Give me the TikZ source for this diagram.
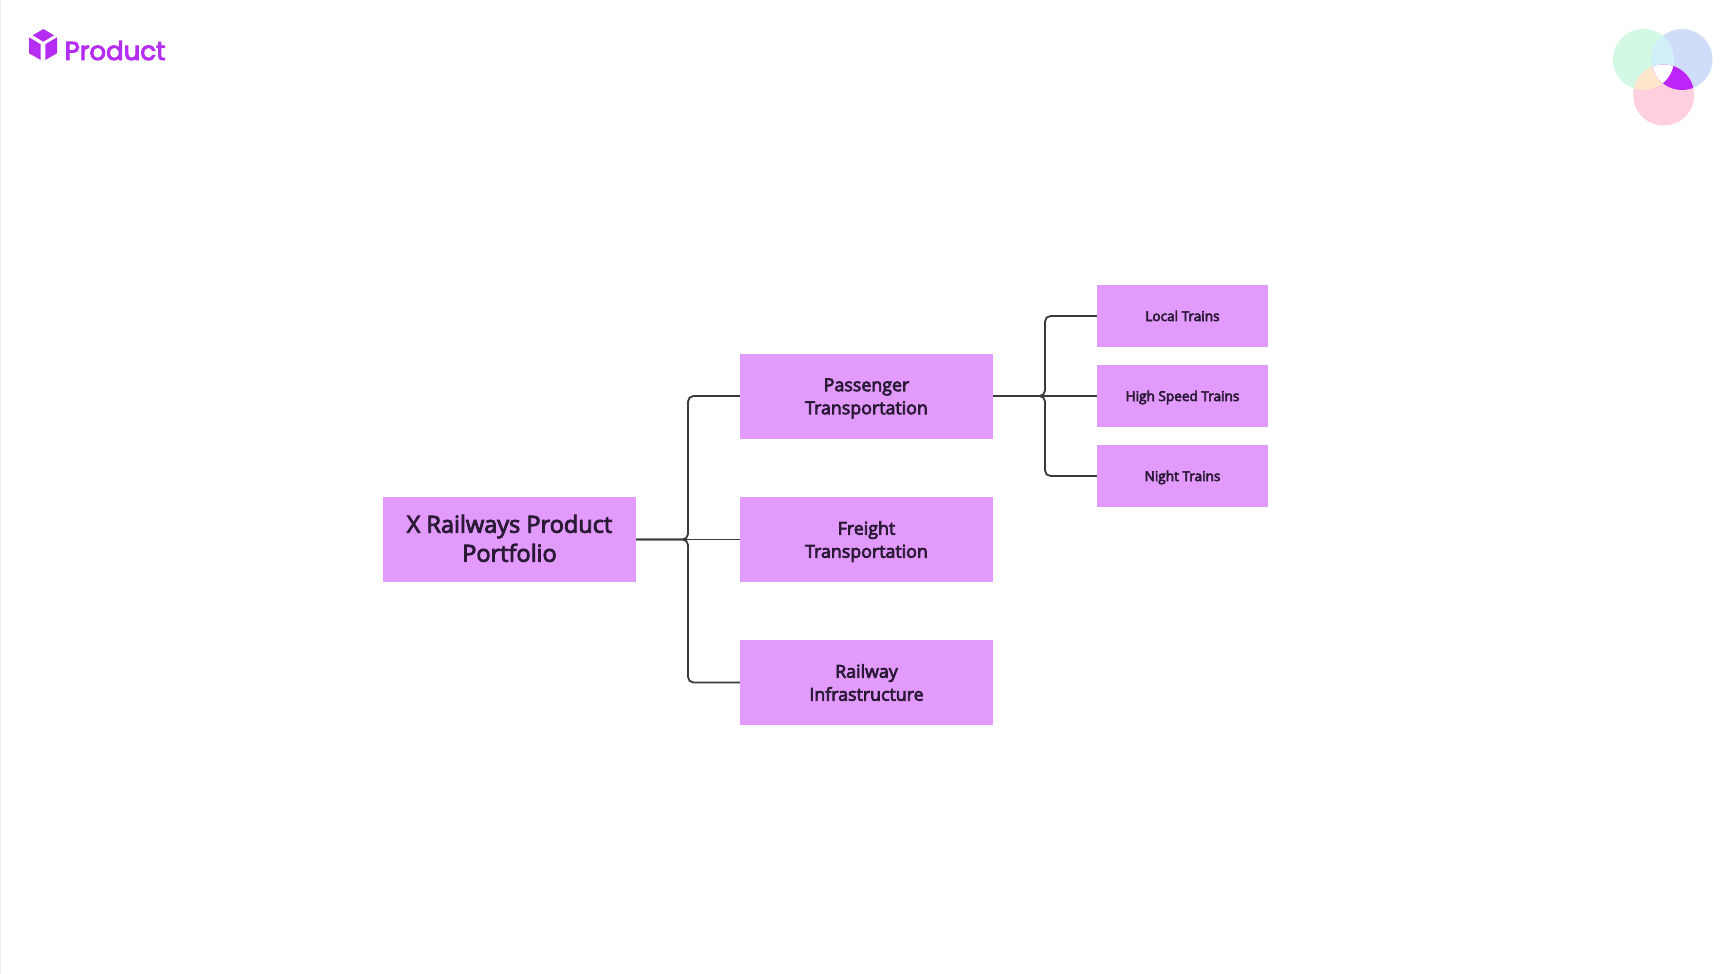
\documentclass[tikz,border=0pt]{standalone}
\usepackage{fontspec}
\setmainfont{Open Sans}
\newfontfamily\semi{Open Sans}
\newfontfamily\logofont{Poppins}
\newcommand{\strokeon}[1]{\special{pdf:code 2 Tr #1 w}}
\newcommand{\strokeoff}{\special{pdf:code 0 Tr}}
\newcommand{\roottxt}[2]{\rule{0pt}{23pt}#1\\#2\rule[-7.6pt]{0pt}{7.6pt}}
\newcommand{\midtxt}[2]{\rule{0pt}{18.4pt}#1\\#2\rule[-5pt]{0pt}{5pt}}
\newcommand{\leaftxt}[1]{\rule[-6pt]{0pt}{22pt}#1}
\definecolor{boxfill}{HTML}{E29AFD}
\definecolor{ink}{HTML}{2A1A35}
\definecolor{linkc}{HTML}{3A3A3A}
\definecolor{brand}{HTML}{B52CF2}
\definecolor{vgreen}{HTML}{D3F8E3}
\definecolor{vblue}{HTML}{D0DDF9}
\definecolor{vpink}{HTML}{FFCFDF}
\definecolor{vgb}{HTML}{D2F0FA}
\definecolor{vgp}{HTML}{FFE6CC}
\definecolor{vbp}{HTML}{BD24F8}
\tikzset{
  base/.style={fill=boxfill,draw=none,inner sep=0pt,align=center,text=ink,
    execute at end node=\strokeoff},
  rootbox/.style={base,minimum width=253pt,minimum height=85pt,font=\semi\fontsize{23.5}{29}\selectfont,
    execute at begin node=\strokeon{0.85}},
  midbox/.style={base,minimum width=253pt,minimum height=85pt,font=\semi\fontsize{17.8}{23}\selectfont,
    execute at begin node=\strokeon{0.7}},
  leafbox/.style={base,minimum width=171pt,minimum height=62pt,font=\semi\fontsize{13.6}{17}\selectfont,
    execute at begin node=\strokeon{0.55}},
  link/.style={draw=linkc,line width=1.8pt,rounded corners=5.5pt},
  cubeface/.style={fill=brand,draw=none}
}
\begin{document}
\begin{tikzpicture}[x=1pt,y=-1pt]
\useasboundingbox (0,0) rectangle (1733,974);
\fill[white] (0,0) rectangle (1733,974);
\draw[black!6,line width=1pt] (0.8,0) -- (0.8,974);
% logo
\fill[cubeface] (43.3,29) -- (54,35.3) -- (43.3,41.7) -- (32.7,35.3) -- cycle;
\fill[cubeface] (29,37.3) -- (40.7,44.3) -- (40.7,60) -- (29,53.3) -- cycle;
\fill[cubeface] (57,37.3) -- (45.3,44.3) -- (45.3,60) -- (57,53.3) -- cycle;
\node[anchor=base west,inner sep=0pt,text=brand,font=\logofont\fontsize{26}{30}\selectfont,
  execute at begin node=\strokeon{0.95},execute at end node=\strokeoff] (logo) at (64.5,60) {Product};
% venn
\def\cg{(1643.5,59.5) circle (30.5)}
\def\cb{(1682,59.5) circle (30.5)}
\def\cp{(1663.7,95) circle (30.5)}
\fill[vgreen] \cg;
\fill[vblue] \cb;
\fill[vpink] \cp;
\begin{scope}\clip \cg; \fill[vgb] \cb; \end{scope}
\begin{scope}\clip \cg; \fill[vgp] \cp; \end{scope}
\begin{scope}\clip \cb; \fill[vbp] \cp; \end{scope}
\begin{scope}\clip \cg; \clip \cb; \fill[white] \cp; \end{scope}
% nodes
\node[rootbox] (root) at (509.5,539.5) {\roottxt{X Railways Product}{Portfolio}};
\node[midbox] (pass) at (866.5,396) {\midtxt{Passenger}{Transportation}};
\node[midbox] (frei) at (866.5,539.5) {\midtxt{Freight}{Transportation}};
\node[midbox] (rail) at (866.5,682.5) {\midtxt{Railway}{Infrastructure}};
\node[leafbox] (loc) at (1182.5,316) {\leaftxt{Local Trains}};
\node[leafbox] (high) at (1182.5,396) {\leaftxt{High Speed Trains}};
\node[leafbox] (night) at (1182.5,476) {\leaftxt{Night Trains}};
% connectors
\coordinate (j1) at (688,539.5);
\coordinate (j2) at (1045,396);
\draw[link] (root.east) -- (j1) |- (pass.west);
\draw[link] (root.east) -- (frei.west);
\draw[link] (root.east) -- (j1) |- (rail.west);
\draw[link] (pass.east) -- (j2) |- (loc.west);
\draw[link] (pass.east) -- (high.west);
\draw[link] (pass.east) -- (j2) |- (night.west);
\end{tikzpicture}
\end{document}
